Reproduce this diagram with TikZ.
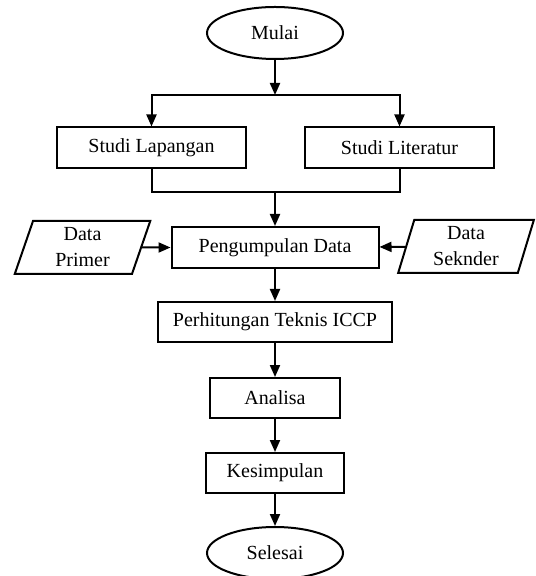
\documentclass[tikz,border=0pt]{standalone}
\usepackage{fontspec}
\setmainfont{Liberation Serif}
\usetikzlibrary{arrows.meta,shapes.geometric}
\tikzset{
  block/.style      = {draw, line width=1pt, minimum height=20.5pt, inner sep=2pt, align=center},
  term/.style       = {draw, ellipse, line width=1pt, minimum width=68pt, minimum height=26pt, inner sep=1pt},
  io/.style         = {draw, trapezium, trapezium left angle=76, trapezium right angle=104,
                       trapezium stretches=true, line width=1pt, minimum width=68pt,
                       minimum height=26.5pt, inner sep=1pt, align=center},
  sig/.style        = {-{Triangle[length=6pt,width=5pt]}, line width=1pt},
  wire/.style       = {line width=1pt},
  every node/.style = {font=\fontsize{10}{13}\selectfont},
}

\begin{document}
\begin{tikzpicture}[x=0.5pt, y=-0.5pt]
  \useasboundingbox (0,0) rectangle (535,576);
  % terminals and steps
  \node[term] (mulai) at (275,33) {Mulai};
  \node[block, minimum width=94.5pt] (lapangan) at (151.5,148) {Studi Lapangan};
  \node[block, minimum width=94.5pt] (literatur) at (399.5,148) {Studi Literatur};
  \node[block, minimum width=103.5pt] (kumpul) at (275,247.5) {Pengumpulan Data};
  \node[io] (primer) at (82.5,247.5) {Data\\Primer};
  \node[io] (sekunder) at (466,246.5) {Data\\Seknder};
  \node[block, minimum width=117pt, minimum height=20pt] (hitung) at (275,322) {Perhitungan Teknis ICCP};
  \node[block, minimum width=65pt, minimum height=20pt] (analisa) at (275,398) {Analisa};
  \node[block, minimum width=69pt, minimum height=20pt] (simpul) at (275,473) {Kesimpulan};
  \node[term] (selesai) at (275,553) {Selesai};
  \coordinate (split) at (275,95);
  \coordinate (join) at (275,192);
  % branch and merge
  \draw[sig] (mulai) -- (split);
  \draw[sig] (split) -| (lapangan);
  \draw[sig] (split) -| (literatur);
  \draw[wire] (lapangan.south) |- (join) -| (literatur.south);
  \draw[sig] (join) -- (kumpul);
  \draw[sig] (primer) -- (kumpul);
  \draw[sig] (sekunder) -- (kumpul);
  \foreach \a/\b in {kumpul/hitung, hitung/analisa, analisa/simpul, simpul/selesai}
    \draw[sig] (\a) -- (\b);
\end{tikzpicture}
\end{document}
